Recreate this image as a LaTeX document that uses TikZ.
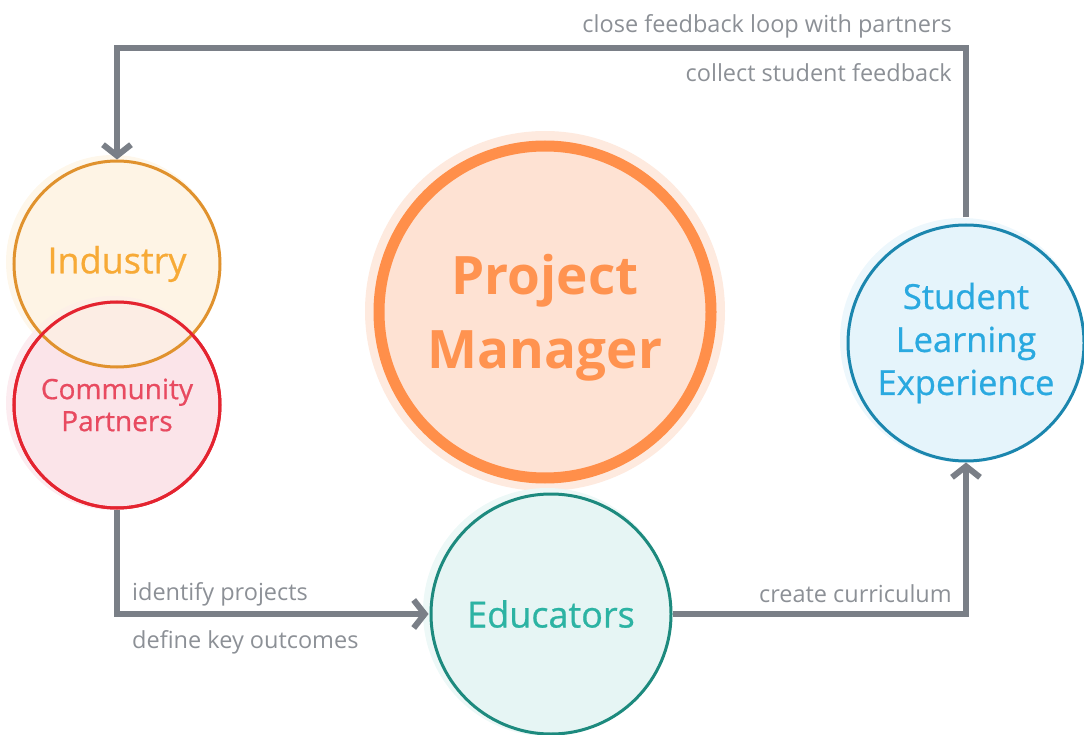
\documentclass[tikz,border=0pt]{standalone}
\usepackage{fontspec}
\setmainfont{Open Sans}
\newfontfamily\semibf{Open Sans}[FakeBold=0.7]
\usetikzlibrary{arrows.meta,calc}
\definecolor{arrgray}{HTML}{7A7F87}
\definecolor{lblgray}{HTML}{8C9096}
\definecolor{indfill}{HTML}{FEF3E2}
\definecolor{indline}{HTML}{E0922E}
\definecolor{indtext}{HTML}{F7AA36}
\definecolor{comfill}{HTML}{FBE4E9}
\definecolor{comline}{HTML}{E42430}
\definecolor{comtext}{HTML}{E84A60}
\definecolor{pmfill}{HTML}{FEE2D3}
\definecolor{pmhalo}{HTML}{FEEADF}
\definecolor{pmline}{HTML}{FF8F4A}
\definecolor{pmtext}{HTML}{FF9350}
\definecolor{slefill}{HTML}{E5F4FB}
\definecolor{sleline}{HTML}{1B86AE}
\definecolor{sletext}{HTML}{2AA9E0}
\definecolor{edufill}{HTML}{E6F5F4}
\definecolor{eduline}{HTML}{1D8A7E}
\definecolor{edutext}{HTML}{2CB3A3}
\begin{document}
\begin{tikzpicture}[x=1pt,y=-1pt,
  bubble/.style={circle,inner sep=0pt,align=center,line width=3pt},
  lbl/.style={text=lblgray,font=\fontsize{23.5}{28}\selectfont,inner sep=0pt},
  conn/.style={draw=arrgray,line width=6pt,line join=miter,
    -{Straight Barb[length=11pt,width=28pt,line width=6pt]}}]
\useasboundingbox (0,0) rectangle (1084,735);
% halos
\fill[pmhalo] (545,311) circle (180pt);
\fill[indfill!70] (113,262) circle (107pt);
\fill[comfill!70] (113,403) circle (107pt);
\fill[slefill!70] (962,340) circle (122pt);
\fill[edufill!70] (547,612) circle (124pt);
% bubbles
\node[bubble,minimum size=206pt,fill=comfill,draw=comline,text=comtext,
  font=\semibf\fontsize{28}{32}\selectfont] (com) at (117,405) {Community\\Partners};
\node[bubble,minimum size=206pt,fill=indfill,fill opacity=0.6,text opacity=1,draw=indline,text=indtext,
  font=\semibf\fontsize{36}{40}\selectfont] (ind) at (117,264) {Industry};
\draw[comline,line width=3pt] (com.center) circle (103pt);
\node[bubble,minimum size=332pt,fill=pmfill,draw=pmline,line width=11pt,
  label={[text=pmtext,align=center,yshift=-6pt,font=\bfseries\fontsize{53}{74}\selectfont]center:Project\\Manager}] (pm) at (545,312) {};
\node[bubble,minimum size=236pt,fill=slefill,draw=sleline,text=sletext,
  font=\semibf\fontsize{34.5}{43}\selectfont] (sle) at (966,343) {Student\\Learning\\Experience};
\node[bubble,minimum size=240pt,fill=edufill,draw=eduline,text=edutext,
  font=\semibf\fontsize{36}{40}\selectfont] (edu) at (551,614) {Educators};
% connectors
\coordinate (top) at (0,48);
\draw[conn,shorten >=1pt] (com.south) |- (edu.west);
\draw[conn] (edu.east) -| (sle.south);
\draw[conn,shorten <=6pt] (sle.north) -- (sle.north |- top) -| (ind.north);
% labels
\node[lbl,anchor=base east] (l1) at (952,33) {close feedback loop with partners};
\node[lbl,anchor=base east] (l2) at (952,82) {collect student feedback};
\node[lbl,anchor=base west] (l3) at (132,600) {identify projects};
\node[lbl,anchor=base west] (l4) at (132,648) {define key outcomes};
\node[lbl,anchor=base east] (l5) at (952,602) {create curriculum};
\end{tikzpicture}
\end{document}
